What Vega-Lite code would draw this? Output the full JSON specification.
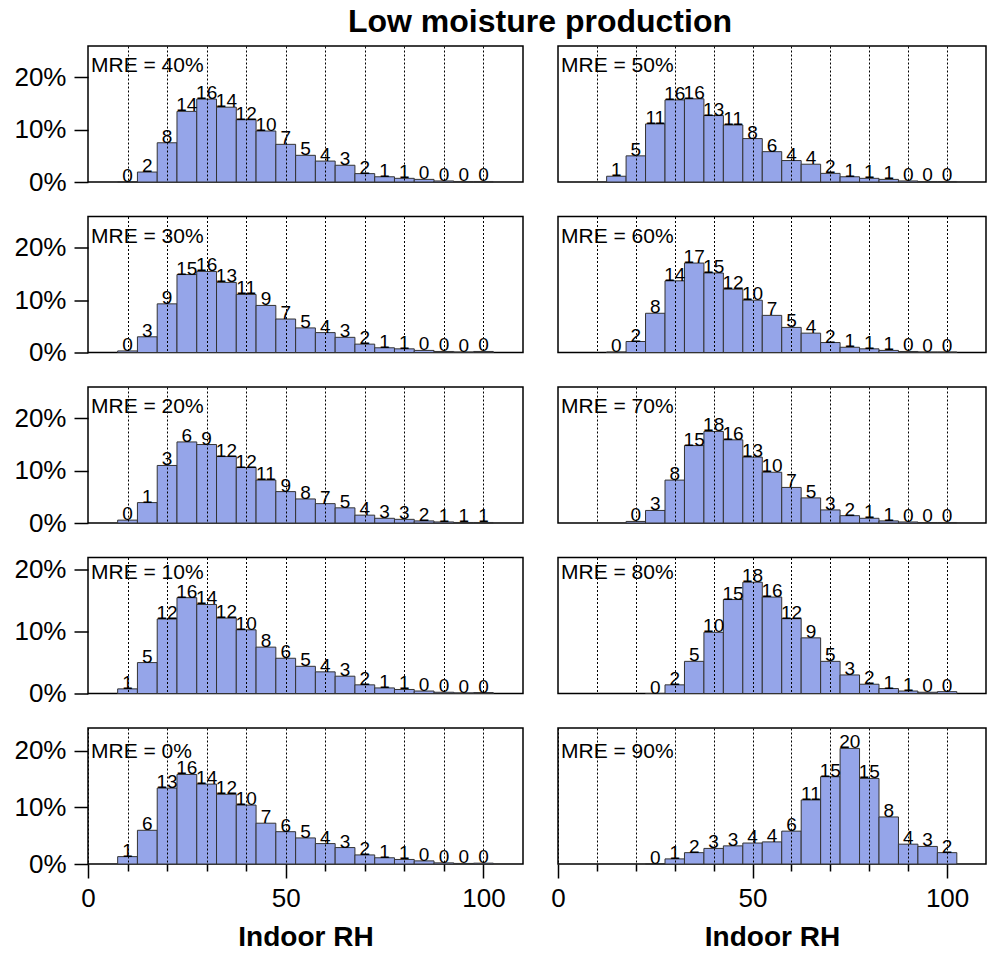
{
  "$schema": "https://vega.github.io/schema/vega-lite/v6.json",
  "padding": {"left": 13, "top": 6, "right": 0, "bottom": 0},
  "background": "white",
  "title": {"text": "Low moisture production", "fontSize": 32, "fontWeight": "bold", "font": "Liberation Sans", "anchor": "middle", "frame": "bounds", "dx": 40, "offset": 6, "color": "black"},
  "config": {
    "font": "Liberation Sans",
    "view": {"stroke": "black", "strokeWidth": 1.5},
    "axis": {"labelColor": "black", "tickColor": "black", "titleColor": "black", "labelFontSize": 26, "labelFont": "Liberation Sans", "titleFont": "Liberation Sans", "tickWidth": 1.5}
  },
  "datasets": {
    "d": [
      {"p":"40","rh":10,"lo":7.5,"hi":12.5,"v":0.05,"lab":"0"},
      {"p":"40","rh":15,"lo":12.5,"hi":17.5,"v":1.9,"lab":"2"},
      {"p":"40","rh":20,"lo":17.5,"hi":22.5,"v":7.5,"lab":"8"},
      {"p":"40","rh":25,"lo":22.5,"hi":27.5,"v":13.5,"lab":"14"},
      {"p":"40","rh":30,"lo":27.5,"hi":32.5,"v":15.85,"lab":"16"},
      {"p":"40","rh":35,"lo":32.5,"hi":37.5,"v":14.3,"lab":"14"},
      {"p":"40","rh":40,"lo":37.5,"hi":42.5,"v":11.9,"lab":"12"},
      {"p":"40","rh":45,"lo":42.5,"hi":47.5,"v":9.75,"lab":"10"},
      {"p":"40","rh":50,"lo":47.5,"hi":52.5,"v":7.2,"lab":"7"},
      {"p":"40","rh":55,"lo":52.5,"hi":57.5,"v":5.1,"lab":"5"},
      {"p":"40","rh":60,"lo":57.5,"hi":62.5,"v":4.0,"lab":"4"},
      {"p":"40","rh":65,"lo":62.5,"hi":67.5,"v":3.2,"lab":"3"},
      {"p":"40","rh":70,"lo":67.5,"hi":72.5,"v":1.6,"lab":"2"},
      {"p":"40","rh":75,"lo":72.5,"hi":77.5,"v":1.0,"lab":"1"},
      {"p":"40","rh":80,"lo":77.5,"hi":82.5,"v":0.7,"lab":"1"},
      {"p":"40","rh":85,"lo":82.5,"hi":87.5,"v":0.5,"lab":"0"},
      {"p":"40","rh":90,"lo":87.5,"hi":92.5,"v":0.2,"lab":"0"},
      {"p":"40","rh":95,"lo":92.5,"hi":97.5,"v":0.1,"lab":"0"},
      {"p":"40","rh":100,"lo":97.5,"hi":102.5,"v":0.1,"lab":"0"},

      {"p":"50","rh":15,"lo":12.5,"hi":17.5,"v":1.1,"lab":"1"},
      {"p":"50","rh":20,"lo":17.5,"hi":22.5,"v":5.0,"lab":"5"},
      {"p":"50","rh":25,"lo":22.5,"hi":27.5,"v":11.1,"lab":"11"},
      {"p":"50","rh":30,"lo":27.5,"hi":32.5,"v":15.7,"lab":"16"},
      {"p":"50","rh":35,"lo":32.5,"hi":37.5,"v":15.9,"lab":"16"},
      {"p":"50","rh":40,"lo":37.5,"hi":42.5,"v":12.7,"lab":"13"},
      {"p":"50","rh":45,"lo":42.5,"hi":47.5,"v":10.9,"lab":"11"},
      {"p":"50","rh":50,"lo":47.5,"hi":52.5,"v":8.3,"lab":"8"},
      {"p":"50","rh":55,"lo":52.5,"hi":57.5,"v":5.8,"lab":"6"},
      {"p":"50","rh":60,"lo":57.5,"hi":62.5,"v":4.1,"lab":"4"},
      {"p":"50","rh":65,"lo":62.5,"hi":67.5,"v":3.4,"lab":"4"},
      {"p":"50","rh":70,"lo":67.5,"hi":72.5,"v":1.65,"lab":"2"},
      {"p":"50","rh":75,"lo":72.5,"hi":77.5,"v":1.0,"lab":"1"},
      {"p":"50","rh":80,"lo":77.5,"hi":82.5,"v":0.7,"lab":"1"},
      {"p":"50","rh":85,"lo":82.5,"hi":87.5,"v":0.5,"lab":"1"},
      {"p":"50","rh":90,"lo":87.5,"hi":92.5,"v":0.2,"lab":"0"},
      {"p":"50","rh":95,"lo":92.5,"hi":97.5,"v":0.1,"lab":"0"},
      {"p":"50","rh":100,"lo":97.5,"hi":102.5,"v":0.1,"lab":"0"},

      {"p":"30","rh":10,"lo":7.5,"hi":12.5,"v":0.3,"lab":"0"},
      {"p":"30","rh":15,"lo":12.5,"hi":17.5,"v":3.0,"lab":"3"},
      {"p":"30","rh":20,"lo":17.5,"hi":22.5,"v":9.3,"lab":"9"},
      {"p":"30","rh":25,"lo":22.5,"hi":27.5,"v":14.9,"lab":"15"},
      {"p":"30","rh":30,"lo":27.5,"hi":32.5,"v":15.5,"lab":"16"},
      {"p":"30","rh":35,"lo":32.5,"hi":37.5,"v":13.4,"lab":"13"},
      {"p":"30","rh":40,"lo":37.5,"hi":42.5,"v":11.1,"lab":"11"},
      {"p":"30","rh":45,"lo":42.5,"hi":47.5,"v":9.0,"lab":"9"},
      {"p":"30","rh":50,"lo":47.5,"hi":52.5,"v":6.4,"lab":"7"},
      {"p":"30","rh":55,"lo":52.5,"hi":57.5,"v":4.7,"lab":"5"},
      {"p":"30","rh":60,"lo":57.5,"hi":62.5,"v":3.8,"lab":"4"},
      {"p":"30","rh":65,"lo":62.5,"hi":67.5,"v":2.9,"lab":"3"},
      {"p":"30","rh":70,"lo":67.5,"hi":72.5,"v":1.6,"lab":"2"},
      {"p":"30","rh":75,"lo":72.5,"hi":77.5,"v":0.9,"lab":"1"},
      {"p":"30","rh":80,"lo":77.5,"hi":82.5,"v":0.7,"lab":"1"},
      {"p":"30","rh":85,"lo":82.5,"hi":87.5,"v":0.4,"lab":"0"},
      {"p":"30","rh":90,"lo":87.5,"hi":92.5,"v":0.2,"lab":"0"},
      {"p":"30","rh":95,"lo":92.5,"hi":97.5,"v":0.1,"lab":"0"},
      {"p":"30","rh":100,"lo":97.5,"hi":102.5,"v":0.2,"lab":"0"},

      {"p":"60","rh":15,"lo":12.5,"hi":17.5,"v":0.1,"lab":"0"},
      {"p":"60","rh":20,"lo":17.5,"hi":22.5,"v":2.1,"lab":"2"},
      {"p":"60","rh":25,"lo":22.5,"hi":27.5,"v":7.5,"lab":"8"},
      {"p":"60","rh":30,"lo":27.5,"hi":32.5,"v":13.7,"lab":"14"},
      {"p":"60","rh":35,"lo":32.5,"hi":37.5,"v":17.1,"lab":"17"},
      {"p":"60","rh":40,"lo":37.5,"hi":42.5,"v":15.2,"lab":"15"},
      {"p":"60","rh":45,"lo":42.5,"hi":47.5,"v":12.1,"lab":"12"},
      {"p":"60","rh":50,"lo":47.5,"hi":52.5,"v":10.0,"lab":"10"},
      {"p":"60","rh":55,"lo":52.5,"hi":57.5,"v":7.1,"lab":"7"},
      {"p":"60","rh":60,"lo":57.5,"hi":62.5,"v":4.8,"lab":"5"},
      {"p":"60","rh":65,"lo":62.5,"hi":67.5,"v":3.7,"lab":"4"},
      {"p":"60","rh":70,"lo":67.5,"hi":72.5,"v":1.9,"lab":"2"},
      {"p":"60","rh":75,"lo":72.5,"hi":77.5,"v":1.0,"lab":"1"},
      {"p":"60","rh":80,"lo":77.5,"hi":82.5,"v":0.7,"lab":"1"},
      {"p":"60","rh":85,"lo":82.5,"hi":87.5,"v":0.4,"lab":"1"},
      {"p":"60","rh":90,"lo":87.5,"hi":92.5,"v":0.2,"lab":"0"},
      {"p":"60","rh":95,"lo":92.5,"hi":97.5,"v":0.1,"lab":"0"},
      {"p":"60","rh":100,"lo":97.5,"hi":102.5,"v":0.1,"lab":"0"},

      {"p":"20","rh":10,"lo":7.5,"hi":12.5,"v":0.55,"lab":"0"},
      {"p":"20","rh":15,"lo":12.5,"hi":17.5,"v":3.9,"lab":"1"},
      {"p":"20","rh":20,"lo":17.5,"hi":22.5,"v":11.0,"lab":"3"},
      {"p":"20","rh":25,"lo":22.5,"hi":27.5,"v":15.5,"lab":"6"},
      {"p":"20","rh":30,"lo":27.5,"hi":32.5,"v":15.0,"lab":"9"},
      {"p":"20","rh":35,"lo":32.5,"hi":37.5,"v":12.7,"lab":"12"},
      {"p":"20","rh":40,"lo":37.5,"hi":42.5,"v":10.6,"lab":"12"},
      {"p":"20","rh":45,"lo":42.5,"hi":47.5,"v":8.2,"lab":"11"},
      {"p":"20","rh":50,"lo":47.5,"hi":52.5,"v":6.0,"lab":"9"},
      {"p":"20","rh":55,"lo":52.5,"hi":57.5,"v":4.6,"lab":"8"},
      {"p":"20","rh":60,"lo":57.5,"hi":62.5,"v":3.7,"lab":"7"},
      {"p":"20","rh":65,"lo":62.5,"hi":67.5,"v":2.9,"lab":"5"},
      {"p":"20","rh":70,"lo":67.5,"hi":72.5,"v":1.5,"lab":"4"},
      {"p":"20","rh":75,"lo":72.5,"hi":77.5,"v":0.9,"lab":"3"},
      {"p":"20","rh":80,"lo":77.5,"hi":82.5,"v":0.7,"lab":"3"},
      {"p":"20","rh":85,"lo":82.5,"hi":87.5,"v":0.4,"lab":"2"},
      {"p":"20","rh":90,"lo":87.5,"hi":92.5,"v":0.2,"lab":"1"},
      {"p":"20","rh":95,"lo":92.5,"hi":97.5,"v":0.1,"lab":"1"},
      {"p":"20","rh":100,"lo":97.5,"hi":102.5,"v":0.1,"lab":"1"},

      {"p":"70","rh":20,"lo":17.5,"hi":22.5,"v":0.3,"lab":"0"},
      {"p":"70","rh":25,"lo":22.5,"hi":27.5,"v":2.4,"lab":"3"},
      {"p":"70","rh":30,"lo":27.5,"hi":32.5,"v":8.2,"lab":"8"},
      {"p":"70","rh":35,"lo":32.5,"hi":37.5,"v":14.8,"lab":"15"},
      {"p":"70","rh":40,"lo":37.5,"hi":42.5,"v":17.5,"lab":"18"},
      {"p":"70","rh":45,"lo":42.5,"hi":47.5,"v":15.9,"lab":"16"},
      {"p":"70","rh":50,"lo":47.5,"hi":52.5,"v":12.6,"lab":"13"},
      {"p":"70","rh":55,"lo":52.5,"hi":57.5,"v":9.7,"lab":"10"},
      {"p":"70","rh":60,"lo":57.5,"hi":62.5,"v":6.8,"lab":"7"},
      {"p":"70","rh":65,"lo":62.5,"hi":67.5,"v":4.8,"lab":"5"},
      {"p":"70","rh":70,"lo":67.5,"hi":72.5,"v":2.5,"lab":"3"},
      {"p":"70","rh":75,"lo":72.5,"hi":77.5,"v":1.4,"lab":"2"},
      {"p":"70","rh":80,"lo":77.5,"hi":82.5,"v":0.9,"lab":"1"},
      {"p":"70","rh":85,"lo":82.5,"hi":87.5,"v":0.4,"lab":"1"},
      {"p":"70","rh":90,"lo":87.5,"hi":92.5,"v":0.2,"lab":"0"},
      {"p":"70","rh":95,"lo":92.5,"hi":97.5,"v":0.1,"lab":"0"},
      {"p":"70","rh":100,"lo":97.5,"hi":102.5,"v":0.1,"lab":"0"},

      {"p":"10","rh":10,"lo":7.5,"hi":12.5,"v":0.75,"lab":"1"},
      {"p":"10","rh":15,"lo":12.5,"hi":17.5,"v":5.0,"lab":"5"},
      {"p":"10","rh":20,"lo":17.5,"hi":22.5,"v":12.05,"lab":"12"},
      {"p":"10","rh":25,"lo":22.5,"hi":27.5,"v":15.5,"lab":"16"},
      {"p":"10","rh":30,"lo":27.5,"hi":32.5,"v":14.4,"lab":"14"},
      {"p":"10","rh":35,"lo":32.5,"hi":37.5,"v":12.2,"lab":"12"},
      {"p":"10","rh":40,"lo":37.5,"hi":42.5,"v":10.3,"lab":"10"},
      {"p":"10","rh":45,"lo":42.5,"hi":47.5,"v":7.5,"lab":"8"},
      {"p":"10","rh":50,"lo":47.5,"hi":52.5,"v":5.7,"lab":"6"},
      {"p":"10","rh":55,"lo":52.5,"hi":57.5,"v":4.4,"lab":"5"},
      {"p":"10","rh":60,"lo":57.5,"hi":62.5,"v":3.5,"lab":"4"},
      {"p":"10","rh":65,"lo":62.5,"hi":67.5,"v":2.8,"lab":"3"},
      {"p":"10","rh":70,"lo":67.5,"hi":72.5,"v":1.4,"lab":"2"},
      {"p":"10","rh":75,"lo":72.5,"hi":77.5,"v":0.9,"lab":"1"},
      {"p":"10","rh":80,"lo":77.5,"hi":82.5,"v":0.65,"lab":"1"},
      {"p":"10","rh":85,"lo":82.5,"hi":87.5,"v":0.4,"lab":"0"},
      {"p":"10","rh":90,"lo":87.5,"hi":92.5,"v":0.2,"lab":"0"},
      {"p":"10","rh":95,"lo":92.5,"hi":97.5,"v":0.1,"lab":"0"},
      {"p":"10","rh":100,"lo":97.5,"hi":102.5,"v":0.15,"lab":"0"},

      {"p":"80","rh":25,"lo":22.5,"hi":27.5,"v":0,"lab":"0"},
      {"p":"80","rh":30,"lo":27.5,"hi":32.5,"v":1.4,"lab":"2"},
      {"p":"80","rh":35,"lo":32.5,"hi":37.5,"v":5.2,"lab":"5"},
      {"p":"80","rh":40,"lo":37.5,"hi":42.5,"v":9.9,"lab":"10"},
      {"p":"80","rh":45,"lo":42.5,"hi":47.5,"v":15.2,"lab":"15"},
      {"p":"80","rh":50,"lo":47.5,"hi":52.5,"v":18.0,"lab":"18"},
      {"p":"80","rh":55,"lo":52.5,"hi":57.5,"v":15.6,"lab":"16"},
      {"p":"80","rh":60,"lo":57.5,"hi":62.5,"v":12.1,"lab":"12"},
      {"p":"80","rh":65,"lo":62.5,"hi":67.5,"v":9.0,"lab":"9"},
      {"p":"80","rh":70,"lo":67.5,"hi":72.5,"v":5.2,"lab":"5"},
      {"p":"80","rh":75,"lo":72.5,"hi":77.5,"v":3.0,"lab":"3"},
      {"p":"80","rh":80,"lo":77.5,"hi":82.5,"v":1.5,"lab":"2"},
      {"p":"80","rh":85,"lo":82.5,"hi":87.5,"v":0.8,"lab":"1"},
      {"p":"80","rh":90,"lo":87.5,"hi":92.5,"v":0.4,"lab":"1"},
      {"p":"80","rh":95,"lo":92.5,"hi":97.5,"v":0.2,"lab":"0"},
      {"p":"80","rh":100,"lo":97.5,"hi":102.5,"v":0.3,"lab":"0"},

      {"p":"0","rh":10,"lo":7.5,"hi":12.5,"v":1.3,"lab":"1"},
      {"p":"0","rh":15,"lo":12.5,"hi":17.5,"v":5.95,"lab":"6"},
      {"p":"0","rh":20,"lo":17.5,"hi":22.5,"v":13.4,"lab":"13"},
      {"p":"0","rh":25,"lo":22.5,"hi":27.5,"v":15.8,"lab":"16"},
      {"p":"0","rh":30,"lo":27.5,"hi":32.5,"v":14.1,"lab":"14"},
      {"p":"0","rh":35,"lo":32.5,"hi":37.5,"v":12.3,"lab":"12"},
      {"p":"0","rh":40,"lo":37.5,"hi":42.5,"v":10.4,"lab":"10"},
      {"p":"0","rh":45,"lo":42.5,"hi":47.5,"v":7.2,"lab":"7"},
      {"p":"0","rh":50,"lo":47.5,"hi":52.5,"v":5.7,"lab":"6"},
      {"p":"0","rh":55,"lo":52.5,"hi":57.5,"v":4.6,"lab":"5"},
      {"p":"0","rh":60,"lo":57.5,"hi":62.5,"v":3.6,"lab":"4"},
      {"p":"0","rh":65,"lo":62.5,"hi":67.5,"v":2.9,"lab":"3"},
      {"p":"0","rh":70,"lo":67.5,"hi":72.5,"v":1.6,"lab":"2"},
      {"p":"0","rh":75,"lo":72.5,"hi":77.5,"v":1.1,"lab":"1"},
      {"p":"0","rh":80,"lo":77.5,"hi":82.5,"v":0.8,"lab":"1"},
      {"p":"0","rh":85,"lo":82.5,"hi":87.5,"v":0.55,"lab":"0"},
      {"p":"0","rh":90,"lo":87.5,"hi":92.5,"v":0.2,"lab":"0"},
      {"p":"0","rh":95,"lo":92.5,"hi":97.5,"v":0.1,"lab":"0"},
      {"p":"0","rh":100,"lo":97.5,"hi":102.5,"v":0.15,"lab":"0"},

      {"p":"90","rh":25,"lo":22.5,"hi":27.5,"v":0,"lab":"0"},
      {"p":"90","rh":30,"lo":27.5,"hi":32.5,"v":0.9,"lab":"1"},
      {"p":"90","rh":35,"lo":32.5,"hi":37.5,"v":2.0,"lab":"2"},
      {"p":"90","rh":40,"lo":37.5,"hi":42.5,"v":2.75,"lab":"3"},
      {"p":"90","rh":45,"lo":42.5,"hi":47.5,"v":3.2,"lab":"3"},
      {"p":"90","rh":50,"lo":47.5,"hi":52.5,"v":3.7,"lab":"4"},
      {"p":"90","rh":55,"lo":52.5,"hi":57.5,"v":3.9,"lab":"4"},
      {"p":"90","rh":60,"lo":57.5,"hi":62.5,"v":5.8,"lab":"6"},
      {"p":"90","rh":65,"lo":62.5,"hi":67.5,"v":11.3,"lab":"11"},
      {"p":"90","rh":70,"lo":67.5,"hi":72.5,"v":15.4,"lab":"15"},
      {"p":"90","rh":75,"lo":72.5,"hi":77.5,"v":20.4,"lab":"20"},
      {"p":"90","rh":80,"lo":77.5,"hi":82.5,"v":15.1,"lab":"15"},
      {"p":"90","rh":85,"lo":82.5,"hi":87.5,"v":8.3,"lab":"8"},
      {"p":"90","rh":90,"lo":87.5,"hi":92.5,"v":3.5,"lab":"4"},
      {"p":"90","rh":95,"lo":92.5,"hi":97.5,"v":3.1,"lab":"3"},
      {"p":"90","rh":100,"lo":97.5,"hi":102.5,"v":2.0,"lab":"2"}
    ]
  },
  "columns": 2,
  "bounds": "flush",
  "spacing": {"row": 34.5, "column": 35},
  "concat": [
    {"width": 435, "height": 136, "layer": [
      {"data": {"name": "d"}, "transform": [{"filter": "datum.p === '40'"}], "mark": {"type": "bar", "color": "#95A5E9", "stroke": "#333333", "strokeWidth": 1},
       "encoding": {"x": {"field": "lo", "type": "quantitative", "scale": {"domain": [0, 110]}, "axis": {"values": [10,20,30,40,50,60,70,80,90,100], "grid": true, "gridDash": [2,2], "gridColor": "black", "gridWidth": 1, "labels": false, "ticks": false, "domain": false, "title": null, "zindex": 1}}, "x2": {"field": "hi"},
        "y": {"field": "v", "type": "quantitative", "scale": {"domain": [0, 25]}, "axis": {"values": [0,5,10,15,20], "labelExpr": "datum.value % 10 === 0 ? datum.value + '%' : ''", "tickSize": {"condition": {"test": "datum.value % 10 === 0", "value": 14}, "value": 8}, "domain": false, "grid": false, "title": null, "labelPadding": 8}}, "y2": {"datum": 0}}},
      {"data": {"name": "d"}, "transform": [{"filter": "datum.p === '40'"}], "mark": {"type": "text", "baseline": "alphabetic", "fontSize": 19, "color": "black"},
       "encoding": {"x": {"field": "rh", "type": "quantitative"}, "y": {"field": "v", "type": "quantitative"}, "text": {"field": "lab"}}},
      {"data": {"values": [{"t": "MRE = 40%"}]}, "mark": {"type": "text", "align": "left", "baseline": "top", "fontSize": 21, "dx": 3, "dy": 4, "color": "black"},
       "encoding": {"x": {"datum": 0}, "y": {"datum": 25}, "text": {"field": "t"}}}
    ]},
    {"width": 428, "height": 136, "layer": [
      {"data": {"name": "d"}, "transform": [{"filter": "datum.p === '50'"}], "mark": {"type": "bar", "color": "#95A5E9", "stroke": "#333333", "strokeWidth": 1},
       "encoding": {"x": {"field": "lo", "type": "quantitative", "scale": {"domain": [0, 108.2]}, "axis": {"values": [10,20,30,40,50,60,70,80,90,100], "grid": true, "gridDash": [2,2], "gridColor": "black", "gridWidth": 1, "labels": false, "ticks": false, "domain": false, "title": null, "zindex": 1}}, "x2": {"field": "hi"},
        "y": {"field": "v", "type": "quantitative", "scale": {"domain": [0, 25]}, "axis": null}, "y2": {"datum": 0}}},
      {"data": {"name": "d"}, "transform": [{"filter": "datum.p === '50'"}], "mark": {"type": "text", "baseline": "alphabetic", "fontSize": 19, "color": "black"},
       "encoding": {"x": {"field": "rh", "type": "quantitative"}, "y": {"field": "v", "type": "quantitative"}, "text": {"field": "lab"}}},
      {"data": {"values": [{"t": "MRE = 50%"}]}, "mark": {"type": "text", "align": "left", "baseline": "top", "fontSize": 21, "dx": 3, "dy": 4, "color": "black"},
       "encoding": {"x": {"datum": 0}, "y": {"datum": 25}, "text": {"field": "t"}}}
    ]},
    {"width": 435, "height": 136, "layer": [
      {"data": {"name": "d"}, "transform": [{"filter": "datum.p === '30'"}], "mark": {"type": "bar", "color": "#95A5E9", "stroke": "#333333", "strokeWidth": 1},
       "encoding": {"x": {"field": "lo", "type": "quantitative", "scale": {"domain": [0, 110]}, "axis": {"values": [10,20,30,40,50,60,70,80,90,100], "grid": true, "gridDash": [2,2], "gridColor": "black", "gridWidth": 1, "labels": false, "ticks": false, "domain": false, "title": null, "zindex": 1}}, "x2": {"field": "hi"},
        "y": {"field": "v", "type": "quantitative", "scale": {"domain": [0, 25]}, "axis": {"values": [0,5,10,15,20], "labelExpr": "datum.value % 10 === 0 ? datum.value + '%' : ''", "tickSize": {"condition": {"test": "datum.value % 10 === 0", "value": 14}, "value": 8}, "domain": false, "grid": false, "title": null, "labelPadding": 8}}, "y2": {"datum": 0}}},
      {"data": {"name": "d"}, "transform": [{"filter": "datum.p === '30'"}], "mark": {"type": "text", "baseline": "alphabetic", "fontSize": 19, "color": "black"},
       "encoding": {"x": {"field": "rh", "type": "quantitative"}, "y": {"field": "v", "type": "quantitative"}, "text": {"field": "lab"}}},
      {"data": {"values": [{"t": "MRE = 30%"}]}, "mark": {"type": "text", "align": "left", "baseline": "top", "fontSize": 21, "dx": 3, "dy": 4, "color": "black"},
       "encoding": {"x": {"datum": 0}, "y": {"datum": 25}, "text": {"field": "t"}}}
    ]},
    {"width": 428, "height": 136, "layer": [
      {"data": {"name": "d"}, "transform": [{"filter": "datum.p === '60'"}], "mark": {"type": "bar", "color": "#95A5E9", "stroke": "#333333", "strokeWidth": 1},
       "encoding": {"x": {"field": "lo", "type": "quantitative", "scale": {"domain": [0, 108.2]}, "axis": {"values": [10,20,30,40,50,60,70,80,90,100], "grid": true, "gridDash": [2,2], "gridColor": "black", "gridWidth": 1, "labels": false, "ticks": false, "domain": false, "title": null, "zindex": 1}}, "x2": {"field": "hi"},
        "y": {"field": "v", "type": "quantitative", "scale": {"domain": [0, 25]}, "axis": null}, "y2": {"datum": 0}}},
      {"data": {"name": "d"}, "transform": [{"filter": "datum.p === '60'"}], "mark": {"type": "text", "baseline": "alphabetic", "fontSize": 19, "color": "black"},
       "encoding": {"x": {"field": "rh", "type": "quantitative"}, "y": {"field": "v", "type": "quantitative"}, "text": {"field": "lab"}}},
      {"data": {"values": [{"t": "MRE = 60%"}]}, "mark": {"type": "text", "align": "left", "baseline": "top", "fontSize": 21, "dx": 3, "dy": 4, "color": "black"},
       "encoding": {"x": {"datum": 0}, "y": {"datum": 25}, "text": {"field": "t"}}}
    ]},
    {"width": 435, "height": 136, "layer": [
      {"data": {"name": "d"}, "transform": [{"filter": "datum.p === '20'"}], "mark": {"type": "bar", "color": "#95A5E9", "stroke": "#333333", "strokeWidth": 1},
       "encoding": {"x": {"field": "lo", "type": "quantitative", "scale": {"domain": [0, 110]}, "axis": {"values": [10,20,30,40,50,60,70,80,90,100], "grid": true, "gridDash": [2,2], "gridColor": "black", "gridWidth": 1, "labels": false, "ticks": false, "domain": false, "title": null, "zindex": 1}}, "x2": {"field": "hi"},
        "y": {"field": "v", "type": "quantitative", "scale": {"domain": [0, 25]}, "axis": {"values": [0,5,10,15,20], "labelExpr": "datum.value % 10 === 0 ? datum.value + '%' : ''", "tickSize": {"condition": {"test": "datum.value % 10 === 0", "value": 14}, "value": 8}, "domain": false, "grid": false, "title": null, "labelPadding": 8}}, "y2": {"datum": 0}}},
      {"data": {"name": "d"}, "transform": [{"filter": "datum.p === '20'"}], "mark": {"type": "text", "baseline": "alphabetic", "fontSize": 19, "color": "black"},
       "encoding": {"x": {"field": "rh", "type": "quantitative"}, "y": {"field": "v", "type": "quantitative"}, "text": {"field": "lab"}}},
      {"data": {"values": [{"t": "MRE = 20%"}]}, "mark": {"type": "text", "align": "left", "baseline": "top", "fontSize": 21, "dx": 3, "dy": 4, "color": "black"},
       "encoding": {"x": {"datum": 0}, "y": {"datum": 25}, "text": {"field": "t"}}}
    ]},
    {"width": 428, "height": 136, "layer": [
      {"data": {"name": "d"}, "transform": [{"filter": "datum.p === '70'"}], "mark": {"type": "bar", "color": "#95A5E9", "stroke": "#333333", "strokeWidth": 1},
       "encoding": {"x": {"field": "lo", "type": "quantitative", "scale": {"domain": [0, 108.2]}, "axis": {"values": [10,20,30,40,50,60,70,80,90,100], "grid": true, "gridDash": [2,2], "gridColor": "black", "gridWidth": 1, "labels": false, "ticks": false, "domain": false, "title": null, "zindex": 1}}, "x2": {"field": "hi"},
        "y": {"field": "v", "type": "quantitative", "scale": {"domain": [0, 25]}, "axis": null}, "y2": {"datum": 0}}},
      {"data": {"name": "d"}, "transform": [{"filter": "datum.p === '70'"}], "mark": {"type": "text", "baseline": "alphabetic", "fontSize": 19, "color": "black"},
       "encoding": {"x": {"field": "rh", "type": "quantitative"}, "y": {"field": "v", "type": "quantitative"}, "text": {"field": "lab"}}},
      {"data": {"values": [{"t": "MRE = 70%"}]}, "mark": {"type": "text", "align": "left", "baseline": "top", "fontSize": 21, "dx": 3, "dy": 4, "color": "black"},
       "encoding": {"x": {"datum": 0}, "y": {"datum": 25}, "text": {"field": "t"}}}
    ]},
    {"width": 435, "height": 136, "layer": [
      {"data": {"name": "d"}, "transform": [{"filter": "datum.p === '10'"}], "mark": {"type": "bar", "color": "#95A5E9", "stroke": "#333333", "strokeWidth": 1},
       "encoding": {"x": {"field": "lo", "type": "quantitative", "scale": {"domain": [0, 110]}, "axis": {"values": [10,20,30,40,50,60,70,80,90,100], "grid": true, "gridDash": [2,2], "gridColor": "black", "gridWidth": 1, "labels": false, "ticks": false, "domain": false, "title": null, "zindex": 1}}, "x2": {"field": "hi"},
        "y": {"field": "v", "type": "quantitative", "scale": {"domain": [0, 22]}, "axis": {"values": [0,5,10,15,20], "labelExpr": "datum.value % 10 === 0 ? datum.value + '%' : ''", "tickSize": {"condition": {"test": "datum.value % 10 === 0", "value": 14}, "value": 8}, "domain": false, "grid": false, "title": null, "labelPadding": 8}}, "y2": {"datum": 0}}},
      {"data": {"name": "d"}, "transform": [{"filter": "datum.p === '10'"}], "mark": {"type": "text", "baseline": "alphabetic", "fontSize": 19, "color": "black"},
       "encoding": {"x": {"field": "rh", "type": "quantitative"}, "y": {"field": "v", "type": "quantitative"}, "text": {"field": "lab"}}},
      {"data": {"values": [{"t": "MRE = 10%"}]}, "mark": {"type": "text", "align": "left", "baseline": "top", "fontSize": 21, "dx": 3, "dy": 4, "color": "black"},
       "encoding": {"x": {"datum": 0}, "y": {"datum": 22}, "text": {"field": "t"}}}
    ]},
    {"width": 428, "height": 136, "layer": [
      {"data": {"name": "d"}, "transform": [{"filter": "datum.p === '80'"}], "mark": {"type": "bar", "color": "#95A5E9", "stroke": "#333333", "strokeWidth": 1},
       "encoding": {"x": {"field": "lo", "type": "quantitative", "scale": {"domain": [0, 108.2]}, "axis": {"values": [10,20,30,40,50,60,70,80,90,100], "grid": true, "gridDash": [2,2], "gridColor": "black", "gridWidth": 1, "labels": false, "ticks": false, "domain": false, "title": null, "zindex": 1}}, "x2": {"field": "hi"},
        "y": {"field": "v", "type": "quantitative", "scale": {"domain": [0, 22]}, "axis": null}, "y2": {"datum": 0}}},
      {"data": {"name": "d"}, "transform": [{"filter": "datum.p === '80'"}], "mark": {"type": "text", "baseline": "alphabetic", "fontSize": 19, "color": "black"},
       "encoding": {"x": {"field": "rh", "type": "quantitative"}, "y": {"field": "v", "type": "quantitative"}, "text": {"field": "lab"}}},
      {"data": {"values": [{"t": "MRE = 80%"}]}, "mark": {"type": "text", "align": "left", "baseline": "top", "fontSize": 21, "dx": 3, "dy": 4, "color": "black"},
       "encoding": {"x": {"datum": 0}, "y": {"datum": 22}, "text": {"field": "t"}}}
    ]},
    {"width": 435, "height": 136, "layer": [
      {"data": {"name": "d"}, "transform": [{"filter": "datum.p === '0'"}], "mark": {"type": "bar", "color": "#95A5E9", "stroke": "#333333", "strokeWidth": 1},
       "encoding": {"x": {"field": "lo", "type": "quantitative", "scale": {"domain": [0, 110]}, "axis": {"values": [0,10,20,30,40,50,60,70,80,90,100], "grid": true, "gridDash": [2,2], "gridColor": "black", "gridWidth": 1, "labelExpr": "datum.value % 50 === 0 ? datum.label : ''", "tickSize": {"condition": {"test": "datum.value % 50 === 0", "value": 14}, "value": 7}, "labelPadding": 7, "labelFlush": false, "domain": false, "title": "Indoor RH", "titleFontSize": 28, "titleFontWeight": "bold", "titlePadding": 12, "zindex": 1}}, "x2": {"field": "hi"},
        "y": {"field": "v", "type": "quantitative", "scale": {"domain": [0, 22.5]}, "axis": {"values": [0,5,10,15,20], "labelExpr": "datum.value % 10 === 0 ? datum.value + '%' : ''", "tickSize": {"condition": {"test": "datum.value % 10 === 0", "value": 14}, "value": 8}, "domain": false, "grid": false, "title": null, "labelPadding": 8}}, "y2": {"datum": 0}}},
      {"data": {"name": "d"}, "transform": [{"filter": "datum.p === '0'"}], "mark": {"type": "text", "baseline": "alphabetic", "fontSize": 19, "color": "black"},
       "encoding": {"x": {"field": "rh", "type": "quantitative"}, "y": {"field": "v", "type": "quantitative"}, "text": {"field": "lab"}}},
      {"data": {"values": [{"t": "MRE = 0%"}]}, "mark": {"type": "text", "align": "left", "baseline": "top", "fontSize": 21, "dx": 3, "dy": 4, "color": "black"},
       "encoding": {"x": {"datum": 0}, "y": {"datum": 22.5}, "text": {"field": "t"}}}
    ]},
    {"width": 428, "height": 136, "layer": [
      {"data": {"name": "d"}, "transform": [{"filter": "datum.p === '90'"}], "mark": {"type": "bar", "color": "#95A5E9", "stroke": "#333333", "strokeWidth": 1},
       "encoding": {"x": {"field": "lo", "type": "quantitative", "scale": {"domain": [0, 108.2]}, "axis": {"values": [0,10,20,30,40,50,60,70,80,90,100], "grid": true, "gridDash": [2,2], "gridColor": "black", "gridWidth": 1, "labelExpr": "datum.value % 50 === 0 ? datum.label : ''", "tickSize": {"condition": {"test": "datum.value % 50 === 0", "value": 14}, "value": 7}, "labelPadding": 7, "labelFlush": false, "domain": false, "title": "Indoor RH", "titleFontSize": 28, "titleFontWeight": "bold", "titlePadding": 12, "zindex": 1}}, "x2": {"field": "hi"},
        "y": {"field": "v", "type": "quantitative", "scale": {"domain": [0, 22.5]}, "axis": null}, "y2": {"datum": 0}}},
      {"data": {"name": "d"}, "transform": [{"filter": "datum.p === '90'"}], "mark": {"type": "text", "baseline": "alphabetic", "fontSize": 19, "color": "black"},
       "encoding": {"x": {"field": "rh", "type": "quantitative"}, "y": {"field": "v", "type": "quantitative"}, "text": {"field": "lab"}}},
      {"data": {"values": [{"t": "MRE = 90%"}]}, "mark": {"type": "text", "align": "left", "baseline": "top", "fontSize": 21, "dx": 3, "dy": 4, "color": "black"},
       "encoding": {"x": {"datum": 0}, "y": {"datum": 22.5}, "text": {"field": "t"}}}
    ]}
  ]
}
